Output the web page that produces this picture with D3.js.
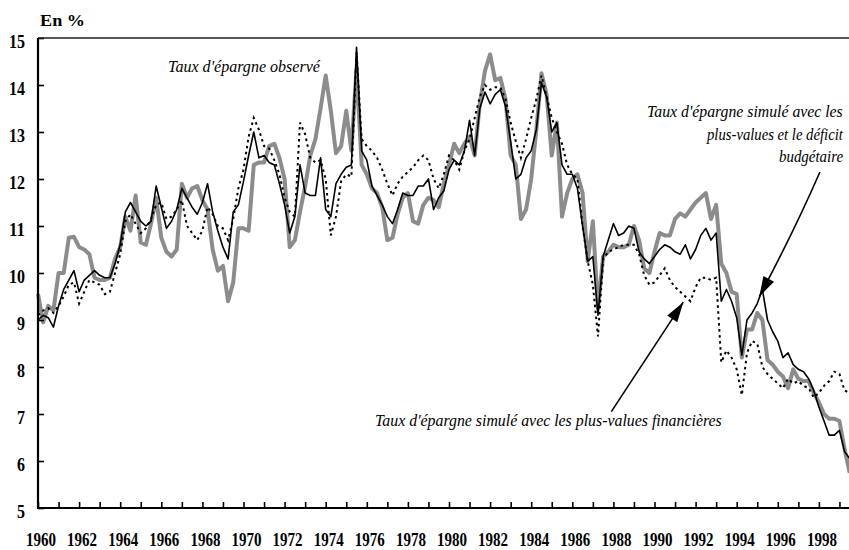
<!DOCTYPE html>
<html>
<head>
<meta charset="utf-8">
<script src="https://cdn.jsdelivr.net/npm/d3@7"></script>
<style>
  body { margin: 0; background: #fff; }
  svg text { font-family: "Liberation Serif", "Times New Roman", serif; }
</style>
</head>
<body>
<svg id="chart" width="849" height="550"></svg>
<script>
'use strict';

// quarterly series, first point = 1960 T1
const startYear = 1960;

// Taux d'épargne observé (grey, thick)
const observed = [
  9.55, 8.95, 9.3, 9.2, 10.0, 10.0, 10.75, 10.77, 10.55, 10.5,
  10.4, 9.9, 9.85, 9.85, 9.9, 10.3, 10.55, 11.2, 10.9, 11.65,
  10.65, 10.6, 11.05, 11.6, 10.75, 10.45, 10.35, 10.5, 11.9, 11.6,
  11.8, 11.85, 11.55, 11.35, 10.5, 10.05, 10.15, 9.4, 9.8, 10.95,
  10.95, 10.9, 12.3, 12.35, 12.35, 12.7, 12.75, 12.45, 12.0, 10.55,
  10.7, 11.3, 11.85, 12.5, 12.85, 13.5, 14.2, 13.45, 12.55, 12.7,
  13.45, 12.6, 14.35, 12.3, 12.1, 11.8, 11.7, 11.4, 10.7, 10.75,
  11.25, 11.6, 11.7, 11.1, 11.05, 11.45, 11.6, 11.55, 11.4, 11.9,
  12.3, 12.75, 12.55, 12.75, 12.9, 12.5, 13.6, 14.3, 14.65, 14.1,
  14.15, 13.7, 12.5, 12.3, 11.15, 11.35, 12.0, 13.05, 14.25, 13.8,
  12.5, 13.2, 11.2, 11.7, 12.0, 12.1, 11.7, 10.25, 11.1, 9.25,
  10.35, 10.45, 10.6, 10.55, 10.55, 10.6, 11.0, 10.7, 10.1, 10.0,
  10.45, 10.85, 10.8, 10.8, 11.15, 11.27, 11.2, 11.35, 11.5, 11.6,
  11.7, 11.15, 11.45, 10.2, 10.0, 9.6, 9.55, 8.2, 8.8, 8.8,
  9.15, 9.0, 8.15, 8.05, 7.9, 7.8, 7.55, 7.95, 7.75, 7.7,
  7.7, 7.45, 7.25, 7.0, 6.9, 6.9, 6.85, 6.25, 5.75
];

// simulé avec les plus-values financières (dotted)
const simPV = [
  9.1, 9.2, 9.25, 9.15, 9.3, 9.5, 9.75, 9.8, 9.35, 9.6,
  9.85, 9.8, 9.75, 9.55, 9.6, 10.0, 10.4, 11.1, 11.25, 11.05,
  10.85, 10.95, 11.15, 11.45, 11.5, 11.15, 11.2, 11.35, 11.55, 11.0,
  10.85, 10.7, 10.9, 11.4, 11.25, 11.0, 10.95, 10.7, 11.15, 11.8,
  12.2, 12.9, 13.3, 13.05, 12.7, 12.65, 12.4, 12.1, 11.6, 11.3,
  11.2, 13.2, 12.95, 12.45, 12.35, 12.4, 12.0, 10.8, 11.2, 11.95,
  12.1, 12.05, 14.7, 12.85, 12.7, 12.6, 12.45, 12.2, 11.9, 11.65,
  11.9, 12.05, 12.15, 12.25, 12.4, 12.5, 12.4, 12.0, 11.8, 12.1,
  12.5, 12.4, 12.2, 12.6, 12.85, 13.3, 13.75, 14.0, 13.9, 13.95,
  13.95, 13.7, 13.2, 12.8, 12.45, 12.85, 13.3, 13.7, 14.2, 13.75,
  13.3, 13.0, 12.75, 12.3, 12.1, 12.0, 11.0, 10.25, 9.75, 8.65,
  10.3, 10.45, 10.5, 10.55, 10.6, 10.6, 10.6, 10.4, 9.95, 9.75,
  9.8, 9.95, 10.1, 9.85, 9.7, 9.6, 9.5, 9.4, 9.7, 9.9,
  9.9, 9.85, 9.9, 8.1, 8.35, 8.2, 7.95, 7.4, 8.3, 8.55,
  8.5, 8.0, 7.85, 7.75, 7.65, 7.55, 7.75, 7.65, 7.7, 7.6,
  7.55, 7.35, 7.45, 7.6, 7.7, 7.9, 7.85, 7.5, 7.45
];

// simulé avec les plus-values et le déficit budgétaire (black, solid)
const simPVDef = [
  9.0, 9.1, 9.05, 8.85, 9.3, 9.65, 9.85, 10.05, 9.6, 9.85,
  9.95, 10.05, 9.95, 9.9, 9.9, 10.2, 10.6, 11.3, 11.5, 11.3,
  11.1, 11.0, 11.1, 11.85, 11.4, 10.95, 11.1, 11.35, 11.8, 11.6,
  11.4, 11.25, 11.5, 11.9, 11.3, 10.9, 10.55, 10.3, 11.3, 11.45,
  11.95, 12.5, 13.0, 12.45, 12.5, 12.35, 12.3, 11.9, 11.45, 10.85,
  11.2, 12.3, 11.7, 11.65, 11.65, 12.45, 11.35, 11.2, 11.9, 12.1,
  12.25, 12.3, 14.8, 12.6, 12.4, 11.85, 11.65, 11.45, 11.2, 11.05,
  11.35, 11.7, 11.65, 11.65, 11.85, 11.85, 12.0, 11.35, 11.6, 11.75,
  12.2, 12.4, 12.3, 12.6, 13.25, 12.5, 13.5, 13.85, 13.6, 13.8,
  13.9, 13.55, 12.8, 12.0, 12.1, 12.45, 12.6, 13.05, 14.05, 13.75,
  13.0, 13.2, 12.3, 12.1, 12.1, 11.8, 11.0, 10.25, 10.35, 9.1,
  10.35, 10.7, 11.05, 10.8, 10.85, 11.0, 10.95, 10.45, 10.3, 10.2,
  10.35, 10.5, 10.6, 10.55, 10.45, 10.4, 10.6, 10.3, 10.5, 10.8,
  10.95, 10.7, 10.85, 9.4, 9.65, 9.4, 9.05, 8.25, 9.0, 9.15,
  9.35, 9.65, 9.0, 8.75, 8.55, 8.2, 8.3, 8.05, 7.95, 7.9,
  7.75, 7.5, 7.15, 6.85, 6.55, 6.55, 6.65, 6.2, 6.05
];

const yTicks = [5, 6, 7, 8, 9, 10, 11, 12, 13, 14, 15];
const xTickYears = d3.range(1960, 2000);
const xLabelYears = [1960, 1962, 1964, 1966, 1968, 1970, 1972, 1974, 1976, 1978,
  1980, 1982, 1984, 1986, 1988, 1990, 1992, 1994, 1996, 1998];

// annotation arrows, in (year, %) : start, bend, tip
const arrows = [
  {from: [1998.05, 12.15], ctrl: [1996.75, 10.85], to: [1995.1, 9.5]},
  {from: [1987.9, 7.05], ctrl: [1989.8, 8.32], to: [1991.4, 9.38]}
];

const svg = d3.select('#chart');
const mLeft = 38, mRight = 849, mTop = 38, mBottom = 508;

const x = d3.scaleLinear().domain([1960, 1999]).range([mLeft, 839.45]);
const y = d3.scaleLinear().domain([5, 15]).range([mBottom, mTop]);

function date(i) { return startYear + i / 4; }

const line = d3.line()
  .x(function (d, i) { return x(date(i)); })
  .y(function (d) { return y(d); });

// series: grey under, then dotted, then black
svg.append('path').datum(observed)
  .attr('d', line)
  .attr('fill', 'none')
  .attr('stroke', '#8c8c8c')
  .attr('stroke-width', 4)
  .attr('stroke-linejoin', 'round');

svg.append('path').datum(simPV)
  .attr('d', line)
  .attr('fill', 'none')
  .attr('stroke', '#000')
  .attr('stroke-width', 2)
  .attr('stroke-dasharray', '2.5,3.5');

svg.append('path').datum(simPVDef)
  .attr('d', line)
  .attr('fill', 'none')
  .attr('stroke', '#000')
  .attr('stroke-width', 1.6)
  .attr('stroke-linejoin', 'round');

// axes (ticks point inside the frame)
const yAxis = d3.axisLeft(y)
  .tickValues(yTicks)
  .tickSizeInner(-6)
  .tickSizeOuter(0)
  .tickPadding(13)
  .tickFormat(d3.format('d'));

svg.append('g')
  .attr('transform', 'translate(' + mLeft + ',0)')
  .call(yAxis)
  .call(function (g) { g.select('.domain').remove(); })
  .call(function (g) {
    g.selectAll('line').attr('stroke-width', 1.6);
    g.selectAll('text')
      .attr('font-size', 18)
      .attr('font-weight', 'bold')
      .attr('fill', '#000')
      .attr('dy', '0.55em')
      .attr('textLength', function (d) { return d >= 10 ? 16 : 8; })
      .attr('lengthAdjust', 'spacingAndGlyphs');
  });

const xAxis = d3.axisBottom(x)
  .tickValues(xTickYears)
  .tickSizeInner(-6)
  .tickSizeOuter(0)
  .tickPadding(25)
  .tickFormat(function (d) { return xLabelYears.indexOf(d) > -1 ? String(d) : ''; });

svg.append('g')
  .attr('transform', 'translate(0,' + mBottom + ')')
  .call(xAxis)
  .call(function (g) { g.select('.domain').remove(); })
  .call(function (g) {
    g.selectAll('line').attr('stroke-width', 1.6);
    g.selectAll('text')
      .attr('font-size', 18)
      .attr('font-weight', 'bold')
      .attr('fill', '#000')
      .attr('dx', 2.5)
      .filter(function (d) { return xLabelYears.indexOf(d) > -1; })
      .attr('textLength', 30)
      .attr('lengthAdjust', 'spacingAndGlyphs');
  });

// frame
svg.append('line').attr('x1', mLeft).attr('x2', mLeft).attr('y1', mTop).attr('y2', mBottom + 1)
  .attr('stroke', '#000').attr('stroke-width', 2.2);
svg.append('line').attr('x1', mLeft - 1).attr('x2', mRight).attr('y1', mBottom).attr('y2', mBottom)
  .attr('stroke', '#000').attr('stroke-width', 2.2);
svg.append('line').attr('x1', mLeft).attr('x2', mRight).attr('y1', mTop).attr('y2', mTop)
  .attr('stroke', '#222').attr('stroke-width', 1.6);

// unit
svg.append('text')
  .attr('x', 40).attr('y', 26)
  .attr('font-size', 17).attr('font-weight', 'bold')
  .attr('textLength', 45).attr('lengthAdjust', 'spacingAndGlyphs')
  .text('En %');

// annotations: squeezed horizontally to the measured width with a scale
function label(txt, px, py, len) {
  const t = svg.append('text')
    .attr('x', 0).attr('y', 0)
    .attr('font-size', 16.5)
    .attr('font-style', 'italic')
    .text(txt);
  const w = t.node().getComputedTextLength();
  const sx = w > 0 ? len / w : 1;
  t.attr('transform', 'translate(' + px + ',' + py + ') scale(' + sx + ',1)');
}
label("Taux d'épargne observé", 168, 72, 152);
label("Taux d'épargne simulé avec les", 843 - 196, 117, 196);
label("plus-values et le déficit", 843 - 136, 140, 136);
label("budgétaire", 843 - 64, 162, 64);
label("Taux d'épargne simulé avec les plus-values financières", 375, 426, 347);

arrows.forEach(function (a) {
  const p0 = [x(a.from[0]), y(a.from[1])];
  const pc = [x(a.ctrl[0]), y(a.ctrl[1])];
  const p1 = [x(a.to[0]), y(a.to[1])];
  const path = d3.path();
  path.moveTo(p0[0], p0[1]);
  path.quadraticCurveTo(pc[0], pc[1], p1[0], p1[1]);
  svg.append('path').attr('d', path.toString())
    .attr('fill', 'none').attr('stroke', '#000').attr('stroke-width', 1.6);

  // arrowhead along the last direction
  const dx = p1[0] - pc[0], dy = p1[1] - pc[1];
  const len = Math.sqrt(dx * dx + dy * dy);
  const ux = dx / len, uy = dy / len;
  const hl = 20, hw = 6;
  const bx = p1[0] - ux * hl, by = p1[1] - uy * hl;
  svg.append('path')
    .attr('d', 'M' + p1[0] + ',' + p1[1] +
      'L' + (bx - uy * hw) + ',' + (by + ux * hw) +
      'L' + (bx + uy * hw) + ',' + (by - ux * hw) + 'Z')
    .attr('fill', '#000');
});
</script>
</body>
</html>
